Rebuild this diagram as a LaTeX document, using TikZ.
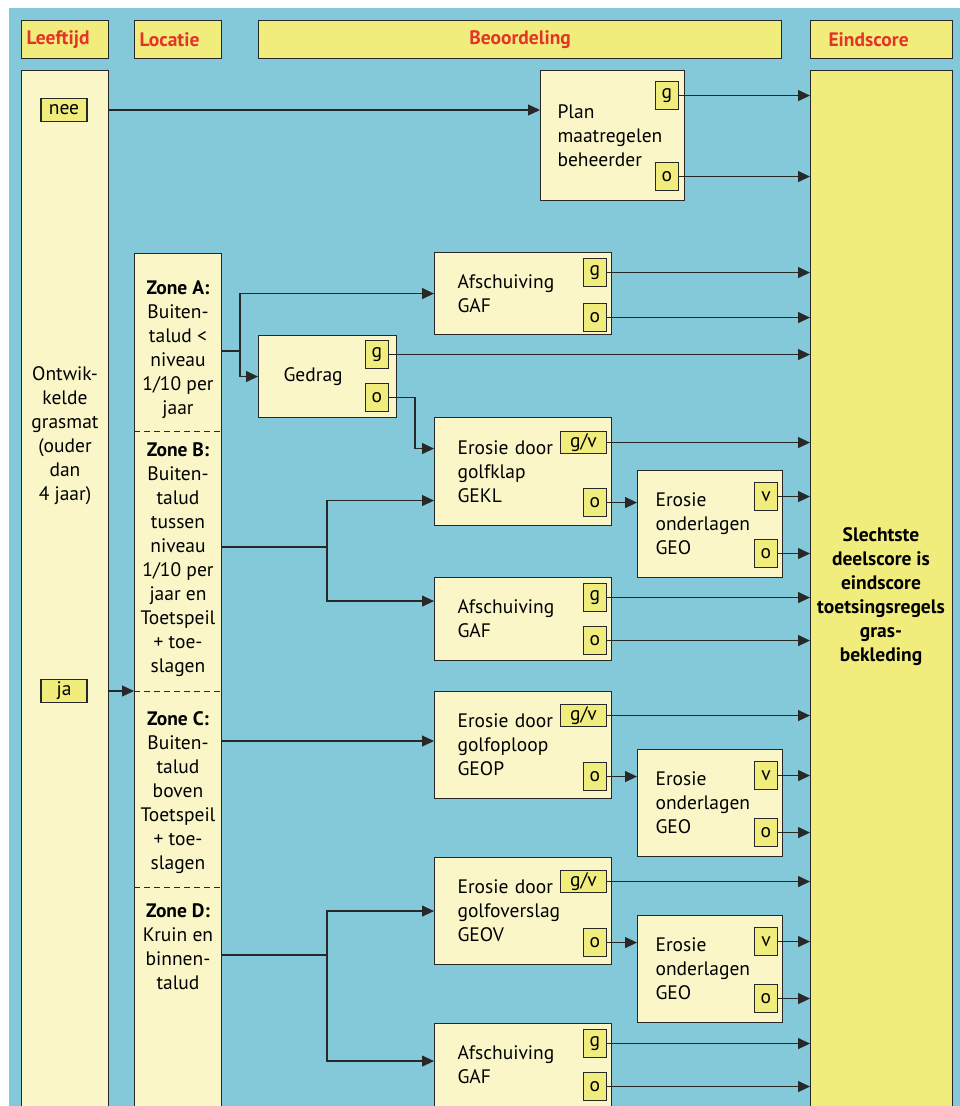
\documentclass[tikz,border=0pt]{standalone}
\usepackage{fontspec}
\setmainfont{PT Sans}
\usetikzlibrary{arrows.meta}

\definecolor{zee}{RGB}{132,201,218}
\definecolor{geel}{RGB}{240,237,125}
\definecolor{licht}{RGB}{250,246,200}
\definecolor{rood}{RGB}{228,52,40}
\definecolor{lijn}{RGB}{40,40,40}

\tikzset{
  kop/.style={draw=lijn, fill=geel, anchor=north west, minimum height=38pt, text=rood,
    font=\fontsize{19.5}{24}\selectfont\bfseries, inner xsep=5pt, text width=77pt, align=left},
  kolom/.style={draw=lijn, fill=licht, anchor=north west, inner sep=0pt},
  blok/.style={draw=lijn, fill=licht, anchor=north west, align=left},
  breed/.style={blok, text width=131pt, inner xsep=23pt},
  smal/.style={blok, text width=109pt, inner xsep=18pt, minimum height=107pt},
  tag/.style={draw=lijn, fill=geel, anchor=north east, minimum width=23pt, minimum height=28pt, inner sep=0pt},
  pijl/.style={-{Triangle[length=12pt,width=11pt]}, draw=lijn, line width=1.2pt},
}

\begin{document}
\begin{tikzpicture}[x=1pt,y=-1pt,font=\fontsize{19.5}{24}\selectfont,line width=1.1pt]
\useasboundingbox (0,0) rectangle (960,1106);
\fill[white] (0,0) rectangle (960,1106);
\fill[zee] (9,8) rectangle (960,1106);

% koppen
\node[kop] (kleeftijd) at (21,20) {Leeftijd};
\node[kop] (klocatie) at (134,20) {Locatie};
\node[kop, text width=513pt, align=center] (kbeoord) at (258,20) {Beoordeling};
\node[kop, text width=106pt, inner xsep=18pt] (keind) at (810,20) {Eindscore};

% kolommen
\node[kolom, minimum width=87pt, minimum height=1060pt] (leeftijd) at (21,70) {};
\node[kolom, minimum width=87pt, minimum height=880pt] (locatie) at (134,253) {};
\node[kolom, fill=geel, minimum width=142pt, minimum height=1060pt] (eind) at (810,70) {};
\node[align=center] (leeftijdtekst) at (65,436) {Ontwik-\\kelde\\grasmat\\(ouder\\dan\\4 jaar)};
\node[align=center, font=\fontsize{19.5}{24}\selectfont\bfseries] (eindtekst) at (881,597)
  {Slechtste\\deelscore is\\eindscore\\toetsingsregels\\gras-\\bekleding};

\node[tag, anchor=center, minimum width=46pt, minimum height=23pt] (nee) at (64,110) {nee};
\node[tag, anchor=center, minimum width=46pt, minimum height=23pt] (ja) at (64,691) {ja};

% zones
\node[align=center] (zoneA) at (178,350) {\textbf{Zone A:}\\Buiten-\\talud <\\niveau\\1/10 per\\jaar};
\node[align=center] (zoneB) at (178,560) {\textbf{Zone B:}\\Buiten-\\talud\\tussen\\niveau\\1/10 per\\jaar en\\Toetspeil\\+ toe-\\slagen};
\node[align=center] (zoneC) at (178,793) {\textbf{Zone C:}\\Buiten-\\talud\\boven\\Toetspeil\\+ toe-\\slagen};
\node[align=center] (zoneD) at (178,947) {\textbf{Zone D:}\\Kruin en\\binnen-\\talud};
\foreach \y in {431,691,887} \draw[lijn, dash pattern=on 6pt off 4pt, line width=0.9pt] (134,\y) -- (221,\y);
\coordinate (za) at (221,351);
\coordinate (zb) at (221,547);
\coordinate (zc) at (221,741);
\coordinate (zd) at (221,955);

% beoordeling
\node[blok, text width=110pt, inner xsep=17pt, minimum height=130pt] (plan) at (540,70) {Plan\\maatregelen\\beheerder};
\node[breed, minimum height=82pt] (afsA) at (434,252) {Afschuiving\\GAF};
\node[blok, text width=88pt, inner xsep=25pt, minimum height=82pt] (gedrag) at (258,335) {Gedrag};
\node[breed, minimum height=108pt] (gekl) at (434,417) {Erosie door\\golfklap\\GEKL};
\node[smal] (geoA) at (637,470) {Erosie\\onderlagen\\GEO};
\node[breed, minimum height=83pt] (afsB) at (434,577) {Afschuiving\\GAF};
\node[breed, minimum height=107pt] (geop) at (434,691) {Erosie door\\golfoploop\\GEOP};
\node[smal] (geoB) at (637,749) {Erosie\\onderlagen\\GEO};
\node[breed, minimum height=107pt] (geov) at (434,857) {Erosie door\\golfoverslag\\GEOV};
\node[smal] (geoC) at (637,915) {Erosie\\onderlagen\\GEO};
\node[breed, minimum height=83pt] (afsD) at (434,1023) {Afschuiving\\GAF};

% scores
\node[tag] (plan-g) at (679,81) {g};
\node[tag] (plan-o) at (679,162) {o};
\node[tag] (afsA-g) at (607,258) {g};
\node[tag] (afsA-o) at (607,303) {o};
\node[tag] (gedrag-g) at (389,340) {g};
\node[tag] (gedrag-o) at (389,383) {o};
\node[tag, minimum width=46pt, minimum height=22pt] (gekl-gv) at (607,431) {g/v};
\node[tag] (gekl-o) at (607,488) {o};
\node[tag] (geoA-v) at (778,482) {v};
\node[tag] (geoA-o) at (778,539) {o};
\node[tag] (afsB-g) at (607,583) {g};
\node[tag] (afsB-o) at (607,626) {o};
\node[tag, minimum width=46pt, minimum height=22pt] (geop-gv) at (607,704) {g/v};
\node[tag] (geop-o) at (607,762) {o};
\node[tag] (geoB-v) at (778,761) {v};
\node[tag] (geoB-o) at (778,818) {o};
\node[tag, minimum width=46pt, minimum height=22pt] (geov-gv) at (607,870) {g/v};
\node[tag] (geov-o) at (607,928) {o};
\node[tag] (geoC-v) at (778,927) {v};
\node[tag] (geoC-o) at (778,984) {o};
\node[tag] (afsD-g) at (607,1029) {g};
\node[tag] (afsD-o) at (607,1072) {o};

% verbindingen
\draw[pijl] (nee.east -| leeftijd.east) -- (nee.east -| plan.west);
\draw[pijl] (ja.east -| leeftijd.east) -- (ja.east -| locatie.west);
\draw[pijl] (za) -- ++(19,0) |- (afsA.west);
\draw[pijl] (za) -- ++(19,0) |- (gedrag.west);
\draw[pijl] (gedrag-o.east) -- ++(26,0) |- ([yshift=23pt]gekl.west);
\draw[pijl] (zb) -- ++(106,0) |- ([yshift=-29pt]gekl.west);
\draw[pijl] (zb) -- ++(106,0) |- ([yshift=18pt]afsB.west);
\draw[pijl] (zc) -- (zc -| geop.west);
\draw[pijl] (zd) -- ++(106,0) |- (geov.west);
\draw[pijl] (zd) -- ++(106,0) |- ([yshift=4pt]afsD.west);
\draw[pijl] (gekl-o.east) -- (gekl-o.east -| geoA.west);
\draw[pijl] (geop-o.east) -- (geop-o.east -| geoB.west);
\draw[pijl] (geov-o.east) -- (geov-o.east -| geoC.west);
\foreach \tg in {plan-g,plan-o,afsA-g,afsA-o,gedrag-g,gekl-gv,geoA-v,geoA-o,afsB-g,afsB-o,
  geop-gv,geoB-v,geoB-o,geov-gv,geoC-v,geoC-o,afsD-g,afsD-o}
  \draw[pijl] (\tg.east) -- (\tg.east -| eind.west);
\end{tikzpicture}
\end{document}
